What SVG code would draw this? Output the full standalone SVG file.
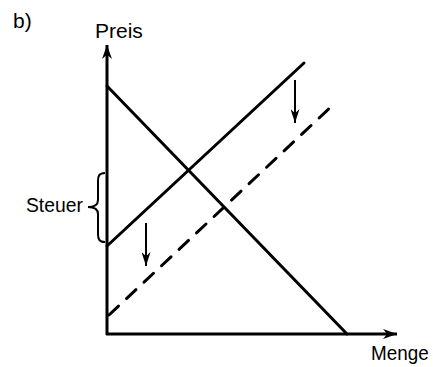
<svg xmlns="http://www.w3.org/2000/svg" width="433" height="367" viewBox="0 0 433 367">
<style>
text{font-family:"Liberation Sans",Arial,sans-serif;font-size:21px;fill:#000}
.ax{stroke:#000;stroke-width:3;fill:none}
.ln{stroke:#000;stroke-width:3;fill:none;stroke-linecap:round}
.ar{stroke:#000;stroke-width:2;fill:none}
.br{stroke:#000;stroke-width:2;fill:none}
</style>
<defs>
<marker id="ah" viewBox="0 0 10 10" refX="10" refY="5" markerWidth="14" markerHeight="9" orient="auto" markerUnits="userSpaceOnUse" preserveAspectRatio="none">
<path d="M0,0 L10,5 L0,10 L3,5 Z" fill="#000"/>
</marker>
<marker id="big" viewBox="0 0 10 10" refX="10" refY="5" markerWidth="14" markerHeight="10" orient="auto" markerUnits="userSpaceOnUse" preserveAspectRatio="none">
<path d="M0,0 L10,5 L0,10 L3,5 Z" fill="#000"/>
</marker>
</defs>
<text x="13" y="28">b)</text>
<text x="95" y="38">Preis</text>
<text transform="translate(371,360) scale(0.9,1)">Menge</text>
<text transform="translate(26,212) scale(0.92,1)">Steuer</text>
<g id="axes">
<line class="ax" x1="107" y1="335" x2="107" y2="45" marker-end="url(#big)"/>
<line class="ax" x1="106" y1="334" x2="397" y2="334" marker-end="url(#big)"/>
</g>
<g id="connectors">
<line class="ln" x1="107" y1="86" x2="347" y2="334"/>
<line class="ln" x1="107" y1="246" x2="304" y2="63"/>
<line class="ln" x1="109" y1="315" x2="334" y2="104" stroke-dasharray="13,11"/>
<line class="ar" x1="146" y1="223" x2="146" y2="266" marker-end="url(#ah)"/>
<line class="ar" x1="295" y1="80" x2="295" y2="123" marker-end="url(#ah)"/>
<path class="br" d="M105,173 C99,173 98,176 98,181 L98,200 C98,205 95,207 88,207 C95,207 98,210 98,214 L98,234 C98,239 99,242 105,242"/>
</g>
</svg>
